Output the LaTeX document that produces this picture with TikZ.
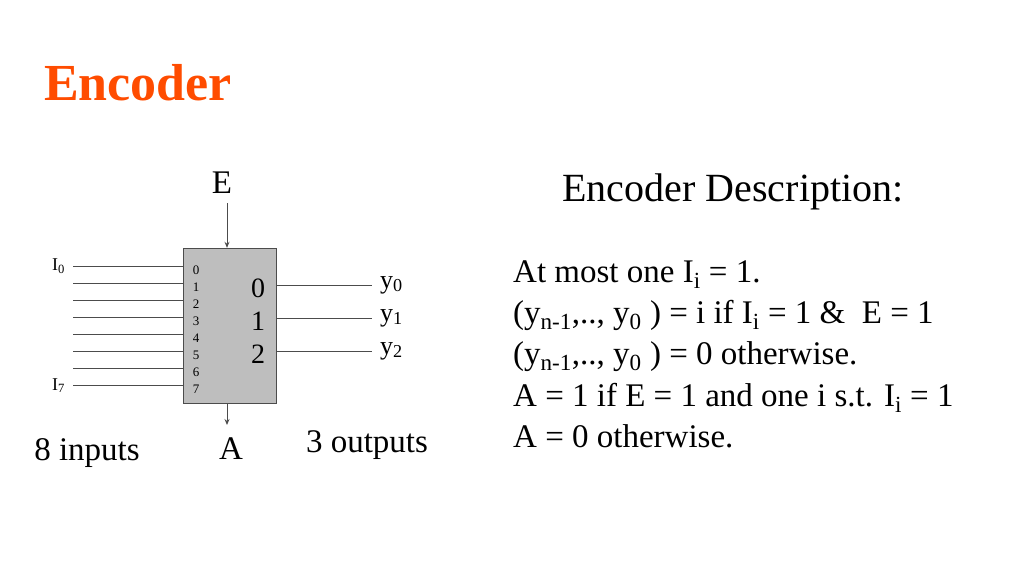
\documentclass[tikz,border=0pt]{standalone}
\usepackage{fontspec}
\setmainfont{Liberation Serif}
\usetikzlibrary{arrows.meta,positioning}
\begin{document}
\begin{tikzpicture}[x=1pt,y=-1pt]
  % Colors
  \colorlet{titlecolor}{orange!60!red}
  \definecolor{boxgray}{RGB}{190,190,190}

  % Styles
  \tikzstyle{wire}=[draw=black!70,line width=0.8pt]
  \tikzstyle{arrow wire}=[draw=black!70,line width=1pt,-{Stealth[length=6pt,width=5pt]}]
  \tikzstyle{pin text}=[inner sep=0pt,font=\fontsize{13}{13}\selectfont]
  \tikzstyle{big text}=[inner sep=0pt,font=\fontsize{33}{33}\selectfont]
  \tikzstyle{desc text}=[inner sep=0pt,anchor=base west,font=\fontsize{33}{33}\selectfont]

  % The graphic
  \useasboundingbox (0,0) rectangle (1024,576);

  \node[text=titlecolor,inner sep=0pt,font=\fontsize{52}{52}\selectfont\bfseries] (title) at (138,83) {Encoder};

  \node[draw=black!70,fill=boxgray,minimum width=93,minimum height=155,inner sep=0pt] (enc) at (229.5,325.5) {};

  % inputs
  \foreach \i in {0,...,7}
  {
    \coordinate (in\i) at (73,266+17.1*\i);
    \draw[wire] (in\i) -- (in\i -| enc.west);
    \node[pin text] (pin\i) at (196,270+17.1*\i) {\i};
  }
  \node[inner sep=0pt,font=\fontsize{18}{18}\selectfont,left=8pt of in0] (ilow) {I\textsubscript{0}};
  \node[inner sep=0pt,font=\fontsize{18}{18}\selectfont,left=8pt of in7] (ihigh) {I\textsubscript{7}};

  % outputs
  \foreach \j/\yy in {0/285,1/318,2/351}
  {
    \coordinate (out\j) at (372,\yy);
    \draw[wire] (out\j -| enc.east) -- (out\j);
    \node[inner sep=0pt,font=\fontsize{28}{28}\selectfont] (dig\j) at (258,\yy+3) {\j};
    \node[inner sep=0pt,font=\fontsize{26}{26}\selectfont,anchor=west] (y\j) at (380,\yy) {y\textsubscript{\j}};
  }

  % enable and A
  \node[big text] (E) at (222,183) {E};
  \node[big text] (A) at (231,449) {A};
  \coordinate (etop) at (227,203);
  \coordinate (abot) at (227,425);
  \draw[arrow wire] (etop) -- (etop |- enc.north);
  \draw[arrow wire] (abot |- enc.south) -- (abot);

  \node[big text] (nin) at (87,453) {8 inputs};
  \node[big text] (nout) at (367,445) {3 outputs};

  % description
  \node[inner sep=0pt,font=\fontsize{40}{40}\selectfont] (head) at (733,192) {Encoder Description:};
  \node[desc text] (l1) at (513,282) {At most one I\textsubscript{i} = 1.};
  \node[desc text] (l2) at (513,323) {(y\textsubscript{n-1},.., y\textsubscript{0} ) = i if I\textsubscript{i} = 1 \&\ \ E = 1};
  \node[desc text] (l3) at (513,364) {(y\textsubscript{n-1},.., y\textsubscript{0} ) = 0 otherwise.};
  \node[desc text] (l4) at (513,406) {A = 1 if E = 1 and one i s.t. I\textsubscript{i} = 1};
  \node[desc text] (l5) at (513,447) {A = 0 otherwise.};
\end{tikzpicture}
\end{document}
